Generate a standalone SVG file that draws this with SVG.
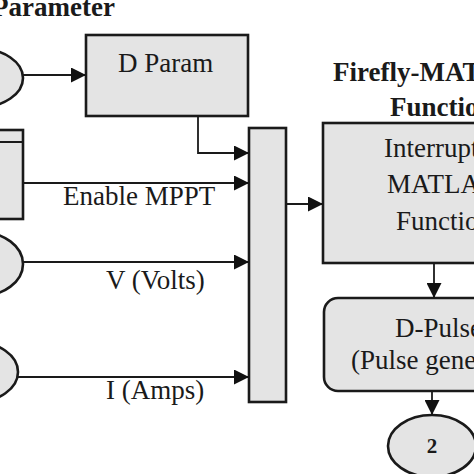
<svg xmlns="http://www.w3.org/2000/svg" width="474" height="474" viewBox="0 0 474 474">
<style>
.box{fill:#e4e4e4;stroke:#1a1a1a;stroke-width:2.6}
.ln{fill:none;stroke:#1a1a1a;stroke-width:1.8}
.t{font-family:"Liberation Serif","Times New Roman",serif;font-size:27px;fill:#1a1a1a}
.b{font-family:"Liberation Serif","Times New Roman",serif;font-size:27px;font-weight:bold;fill:#1a1a1a}
</style>
<defs>
<marker id="ah" markerUnits="userSpaceOnUse" markerWidth="16" markerHeight="15" refX="15" refY="7.5" orient="auto">
<path d="M0,0 L15,7.5 L0,15 Z" fill="#111"/>
</marker>
</defs>
<rect width="474" height="474" fill="#fff"/>
<text class="b" x="-8" y="16">Parameter</text>
<text class="b" x="333" y="81">Firefly-MATLAB</text>
<text class="b" x="390" y="116">Function</text>
<g id="in1"><ellipse class="box" cx="-20" cy="78" rx="43" ry="29"/></g>
<g id="dparam"><rect class="box" x="86" y="35" width="162" height="81"/><text class="t" x="118" y="72">D Param</text></g>
<g id="enable"><rect class="box" x="-10" y="130" width="33" height="89"/><line class="ln" x1="-10" y1="142" x2="23" y2="142"/></g>
<g id="inV"><ellipse class="box" cx="-20" cy="264" rx="43" ry="32"/></g>
<g id="inI"><ellipse class="box" cx="-25" cy="372" rx="43" ry="30"/></g>
<g id="mux"><rect class="box" x="249" y="128" width="37" height="274"/></g>
<g id="func"><rect class="box" x="323" y="123" width="180" height="140"/>
<text class="t" x="384" y="157">Interrupt</text>
<text class="t" x="387" y="193">MATLAB</text>
<text class="t" x="396" y="230">Function</text></g>
<g id="pulse"><rect class="box" x="324" y="298" width="190" height="93" rx="14"/>
<text class="t" x="395" y="337">D-Pulse</text>
<text class="t" x="351" y="369">(Pulse generator)</text></g>
<g id="out2"><ellipse class="box" cx="432" cy="446" rx="44" ry="31"/>
<text class="b" x="432" y="453" text-anchor="middle" style="font-size:21px">2</text></g>
<g id="connectors">
<line class="ln" x1="23" y1="75" x2="86" y2="75" marker-end="url(#ah)"/>
<polyline class="ln" points="198,116 198,153 249,153" marker-end="url(#ah)"/>
<line class="ln" x1="23" y1="183" x2="249" y2="183" marker-end="url(#ah)"/>
<line class="ln" x1="23" y1="262" x2="249" y2="262" marker-end="url(#ah)"/>
<line class="ln" x1="18" y1="377" x2="249" y2="377" marker-end="url(#ah)"/>
<line class="ln" x1="286" y1="204" x2="323" y2="204" marker-end="url(#ah)"/>
<line class="ln" x1="434" y1="263" x2="434" y2="298" marker-end="url(#ah)"/>
<line class="ln" x1="432" y1="391" x2="432" y2="415" marker-end="url(#ah)"/>
<text class="t" x="63" y="205">Enable MPPT</text>
<text class="t" x="106" y="289">V (Volts)</text>
<text class="t" x="106" y="399">I (Amps)</text>
</g>
</svg>
